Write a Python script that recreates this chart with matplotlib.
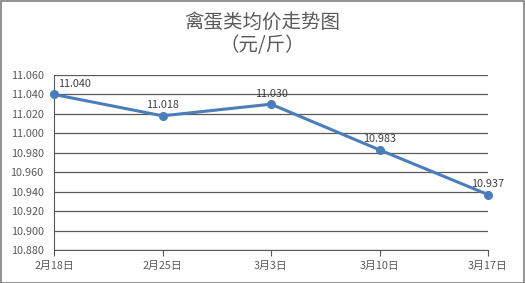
import matplotlib
matplotlib.use("Agg")
import matplotlib.pyplot as plt
from matplotlib.patches import Rectangle

plt.rcParams['font.family'] = ['Noto Sans CJK SC', 'DejaVu Sans']

categories = ["2月18日", "2月25日", "3月3日", "3月10日", "3月17日"]
values = [11.040, 11.018, 11.030, 10.983, 10.937]
labels = ["11.040", "11.018", "11.030", "10.983", "10.937"]
yticks = [10.880, 10.900, 10.920, 10.940, 10.960, 10.980, 11.000, 11.020, 11.040, 11.060]

W, H = 525, 283
fig = plt.figure(figsize=(W/100, H/100), dpi=100)
fig.patch.set_facecolor('white')
fig.add_artist(Rectangle((0.5/W, 0.5/H), 1-1.5/W, 1-1.5/H, transform=fig.transFigure,
                         fill=False, edgecolor='#7f7f7f', linewidth=1.2))

ax = fig.add_axes([54/W, 1-250/H, (488-54)/W, (250-75)/H])
x = list(range(len(categories)))
gray = '#595959'
ax.set_ylim(10.880, 11.060)
ax.set_xlim(0, len(categories)-1)
ax.set_yticks(yticks)
ax.set_yticklabels([f"{v:.3f}" for v in yticks], fontsize=7.8, color=gray)
ax.set_xticks(x)
ax.set_xticklabels(categories, fontsize=7.8, color=gray)
ax.grid(axis='y', color=gray, linewidth=0.9)
ax.set_axisbelow(True)
for s in ['top', 'right']:
    ax.spines[s].set_visible(False)
ax.spines['left'].set_color(gray)
ax.spines['bottom'].set_color(gray)
ax.tick_params(axis='y', length=0, pad=7.5)
ax.tick_params(axis='x', length=4, color=gray, pad=4)

ax.plot(x, values, color='#4A7EBB', linewidth=2.2, marker='o', markersize=5.5, clip_on=False, zorder=3)
for i, (v, t) in enumerate(zip(values, labels)):
    if i == 0:
        ax.annotate(t, (i, v), xytext=(3, 4), textcoords='offset points', ha='left', va='bottom',
                    fontsize=7.8, color='#404040')
    else:
        ax.annotate(t, (i, v), xytext=(0, 4), textcoords='offset points', ha='center', va='bottom',
                    fontsize=7.8, color='#404040')

fig.text(0.5, 1-22/H, "禽蛋类均价走势图", ha='center', va='center', fontsize=14, color=gray)
fig.text(0.5, 1-45/H, "（元/斤）", ha='center', va='center', fontsize=14, color=gray)

fig.savefig("out.png", dpi=100)
